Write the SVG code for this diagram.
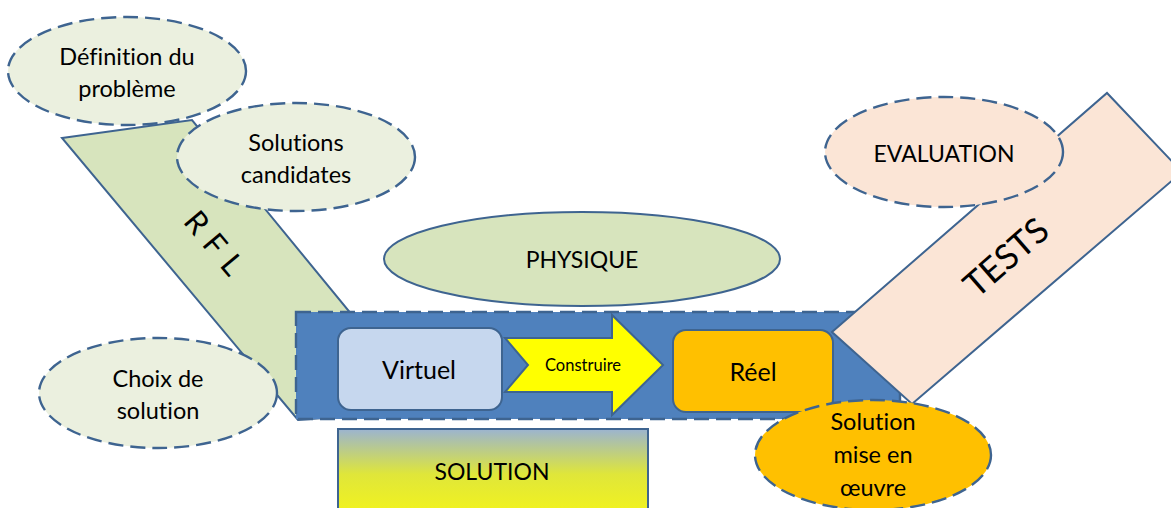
<svg xmlns="http://www.w3.org/2000/svg" width="1171" height="508" viewBox="0 0 1171 508">
<defs>
<linearGradient id="solgrad" x1="0" y1="0" x2="0" y2="1">
<stop offset="0" stop-color="#9bb4d0"/>
<stop offset="0.5" stop-color="#dfe63a"/>
<stop offset="1" stop-color="#f5f51a"/>
</linearGradient>
<style>
text{font-family:Lato,"Open Sans","Liberation Sans",sans-serif;fill:#000;text-anchor:middle;dominant-baseline:central;font-variant-ligatures:none}
.band{stroke:#3e6490;stroke-width:2}
.dash{stroke:#3e6490;stroke-width:2.4;stroke-dasharray:15 7}
.solid{stroke:#3e6490;stroke-width:2}
.t23{font-size:23.5px}
.tb{font-size:25px}
</style>
</defs>
<g id="rfl-band">
<polygon class="band" points="62,138 192,120 430,410 298,420" fill="#d7e4bd"/>
<text transform="translate(218,246) rotate(50)" font-size="31" letter-spacing="10">RFL</text>
</g>
<g id="cadre">
<rect x="296" y="312" width="604" height="107" fill="#4f81bd" class="dash"/>
</g>
<g id="tests-band">
<polygon class="band" points="832,332 1107,93 1182,172 912,404" fill="#fbe5d6"/>
<text transform="translate(1005,256) rotate(-41)" font-size="35">TESTS</text>
</g>
<g id="physique">
<ellipse cx="582" cy="259" rx="198" ry="47" fill="#d7e4bd" class="solid"/>
<text x="582" y="259" font-size="23">PHYSIQUE</text>
</g>
<g id="virtuel">
<rect x="338" y="328" width="164" height="82" rx="13" fill="#c6d7ee" class="solid"/>
<text x="419" y="369" class="tb">Virtuel</text>
</g>
<g id="construire">
<polygon points="505,338 612,338 612,315 663,365 612,415 612,392 505,392 528,365" fill="#ffff00" class="solid"/>
<text x="583" y="365" font-size="16.5">Construire</text>
</g>
<g id="reel">
<rect x="673" y="330" width="160" height="82" rx="13" fill="#ffc000" class="solid"/>
<text x="753" y="371" class="tb">Réel</text>
</g>
<g id="solution">
<rect x="338" y="429" width="310" height="90" fill="url(#solgrad)" class="solid"/>
<text x="492" y="471" font-size="23">SOLUTION</text>
</g>
<g id="definition">
<ellipse cx="127" cy="71" rx="119" ry="54" fill="#ebf0df" class="dash"/>
<text x="127" y="56" class="t23">Définition du</text>
<text x="127" y="88" class="t23">problème</text>
</g>
<g id="candidates">
<ellipse cx="296" cy="157" rx="119" ry="54" fill="#ebf0df" class="dash"/>
<text x="296" y="142" class="t23">Solutions</text>
<text x="296" y="174" class="t23">candidates</text>
</g>
<g id="choix">
<ellipse cx="158" cy="393" rx="119" ry="55" fill="#ebf0df" class="dash"/>
<text x="158" y="378" class="t23">Choix de</text>
<text x="158" y="410" class="t23">solution</text>
</g>
<g id="evaluation">
<ellipse cx="944" cy="152" rx="119" ry="55" fill="#fbe5d6" class="dash"/>
<text x="944" y="153" font-size="23">EVALUATION</text>
</g>
<g id="mise-en-oeuvre">
<ellipse cx="873" cy="455" rx="118" ry="55" fill="#ffc000" class="dash"/>
<text x="873" y="421" class="t23">Solution</text>
<text x="873" y="454" class="t23">mise en</text>
<text x="873" y="487" class="t23">œuvre</text>
</g>
</svg>
